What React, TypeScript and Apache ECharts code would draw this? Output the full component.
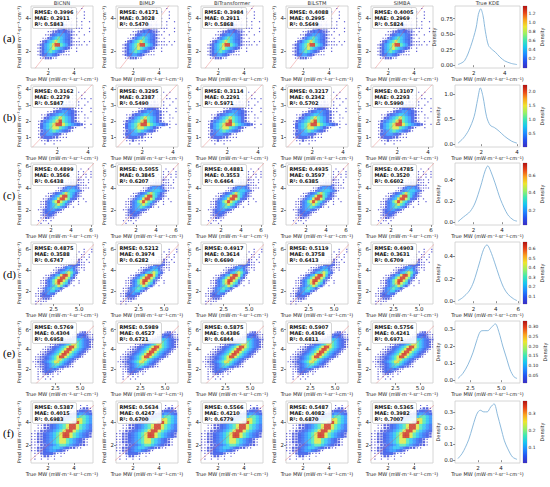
import React, { useEffect, useRef } from 'react';
import * as echarts from 'echarts';

// ---------------- data ----------------
const MODELS = ['BiCNN', 'BiMLP', 'BiTransformer', 'BiLSTM', 'SIMBA'];
const KDE_TITLE = 'True KDE';
const ROW_LABELS = ['(a)', '(b)', '(c)', '(d)', '(e)', '(f)'];
const X_NAME = 'True MW (mW·m⁻²·sr⁻¹·cm⁻¹)';
const Y_NAME = 'Pred (mW·m⁻²·sr⁻¹·cm⁻¹)';
const DENSITY = 'Density';

const RMSE = [
  [0.3996, 0.4171, 0.3984, 0.4088, 0.4005],
  [0.3162, 0.3295, 0.3114, 0.3217, 0.3107],
  [0.4899, 0.5055, 0.4881, 0.4935, 0.4785],
  [0.4875, 0.5212, 0.4917, 0.5119, 0.4903],
  [0.5769, 0.5989, 0.5875, 0.5907, 0.5756],
  [0.5387, 0.5634, 0.5566, 0.5487, 0.5365],
];
const MAE = [
  [0.2911, 0.3028, 0.2911, 0.2995, 0.2969],
  [0.2279, 0.2387, 0.2291, 0.2342, 0.2293],
  [0.3566, 0.3845, 0.3553, 0.3597, 0.352],
  [0.3588, 0.3974, 0.3614, 0.3758, 0.3631],
  [0.4304, 0.4527, 0.4386, 0.4366, 0.4241],
  [0.4015, 0.4247, 0.421, 0.4082, 0.3982],
];
const R2 = [
  [0.5843, 0.547, 0.5868, 0.5649, 0.5824],
  [0.5847, 0.549, 0.5971, 0.5702, 0.599],
  [0.6438, 0.6207, 0.6464, 0.6385, 0.6602],
  [0.6747, 0.6282, 0.669, 0.6413, 0.6709],
  [0.6958, 0.6721, 0.6844, 0.6811, 0.6971],
  [0.6983, 0.67, 0.6779, 0.687, 0.7007],
];

// scatter panel axes
const SC_X_MIN = [0.66, 0.3, 0.0, 0.27, 0.03, 0.7];
const SC_X_MAX = [5.47, 4.33, 6.2, 6.37, 6.3, 5.45];
const SC_Y_MIN = [1.0, 0.4, 0.6, 0.75, 0.6, 0.4];
const SC_Y_MAX = [4.75, 4.25, 6.3, 6.7, 6.88, 5.9];
const SC_X_TICKS = [[2, 4], [2, 4], [2, 4, 6], [2.5, 5], [2.5, 5], [2, 4]];
const SC_Y_TICKS = [[2, 4], [1, 2, 3, 4], [2, 4, 6], [2, 4, 6], [2, 4, 6], [2, 4]];
const SC_X_DEC = [0, 0, 0, 1, 1, 0];

// KDE curves of the true values
const KDE_X = [
  [0.98, 1.4, 1.8, 2.15, 2.3, 2.45, 2.6, 2.75, 2.95, 3.2, 3.4, 3.7, 4.0, 4.4, 4.8],
  [0.7, 1.0, 1.3, 1.6, 1.8, 1.95, 2.1, 2.3, 2.5, 2.75, 3.0, 3.3, 3.7, 4.0],
  [0.9, 1.3, 1.75, 2.1, 2.5, 2.8, 3.0, 3.2, 3.5, 3.9, 4.4, 4.8, 5.05],
  [0.6, 1.0, 1.6, 2.0, 2.5, 2.9, 3.2, 3.5, 3.9, 4.3, 4.7, 5.1, 5.6, 5.9],
  [1.5, 1.9, 2.3, 2.7, 3.0, 3.3, 3.6, 3.9, 4.2, 4.5, 4.8, 5.1, 5.4, 5.7, 6.0, 6.25],
  [0.25, 0.6, 0.9, 1.2, 1.5, 1.8, 2.0, 2.2, 2.5, 2.8, 3.1, 3.4, 3.7, 4.0, 4.3, 4.6, 5.0, 5.4],
];
const KDE_Y = [
  [0.01, 0.07, 0.3, 0.6, 0.82, 0.91, 0.8, 0.55, 0.32, 0.25, 0.21, 0.13, 0.07, 0.03, 0.01],
  [0.02, 0.12, 0.28, 0.55, 0.9, 1.13, 0.95, 0.55, 0.38, 0.33, 0.26, 0.16, 0.06, 0.02],
  [0.005, 0.05, 0.1, 0.18, 0.34, 0.48, 0.53, 0.48, 0.37, 0.21, 0.07, 0.02, 0.01],
  [0.005, 0.03, 0.09, 0.17, 0.33, 0.46, 0.5, 0.45, 0.34, 0.22, 0.12, 0.06, 0.02, 0.005],
  [0.01, 0.04, 0.09, 0.16, 0.23, 0.285, 0.29, 0.29, 0.31, 0.33, 0.28, 0.2, 0.13, 0.06, 0.02, 0.01],
  [0.01, 0.04, 0.08, 0.13, 0.2, 0.27, 0.3, 0.31, 0.3, 0.3, 0.33, 0.35, 0.28, 0.2, 0.12, 0.07, 0.02, 0.005],
];
const KDE_X_TICKS = [[2, 4], [2, 4], [2, 4], [2, 4, 6], [2.5, 5], [2, 4]];
const KDE_X_DEC = [0, 0, 0, 0, 1, 0];
const KDE_Y_TICKS = [[0, 0.25, 0.5, 0.75], [0, 0.5, 1], [0, 0.2, 0.4], [0, 0.2, 0.4], [0, 0.1, 0.2, 0.3], [0, 0.1, 0.2, 0.3]];
const KDE_Y_DEC = [2, 1, 1, 1, 1, 1];

// colour bars (point density)
const CB_MIN = [0.0, 0.0, 0.03, 0.02, 0.01, 0.01];
const CB_MAX = [1.36, 2.24, 0.74, 0.67, 0.33, 0.37];
const CB_TICKS = [
  [0.2, 0.4, 0.6, 0.8, 1.0, 1.2],
  [0.5, 1.0, 1.5, 2.0],
  [0.2, 0.4, 0.6],
  [0.1, 0.2, 0.3, 0.4, 0.5, 0.6],
  [0.05, 0.1, 0.15, 0.2, 0.25, 0.3],
  [0.1, 0.2, 0.3],
];
const CB_DEC = [1, 1, 1, 1, 2, 1];

// binned point-density of each row's clouds: [leading empty bins, density level 1-9 per bin]
const CLOUD_X0 = [1.0, 0.6, 0.5, 0.5, 0.25, 0.75];
const CLOUD_TOP = [4.6, 3.8, 5.75, 6.0, 5.75, 5.5];
const CLOUD_STEP = [0.2, 0.2, 0.25, 0.25, 0.25, 0.25];
// share of the colour-bar range that each density level reaches
const LEVEL_SHARE = [0, 0.02, 0.05, 0.09, 0.14, 0.22, 0.32, 0.45, 0.64, 0.95];

const CLOUD_A: [number, string][] = [
  [14, '1...1'], [12, '1...1..1'], [10, '1..1.1...1'], [9, '1.1.11.1..1'],
  [8, '1.11111.1.1..1'], [7, '1112221211.1'], [6, '1112232221111..1'], [5, '11223433221.1...1'],
  [4, '1123455543211..1'], [3, '1124567654321.1'], [2, '1235678765432111.1.1'], [1, '123567899765321111.1'],
  [1, '12356787654321.1'], [1, '1235676543211..1'], [1, '1234554321111'], [2, '1122211'],
];
const CLOUD_B: [number, string][] = [
  [11, '1..1.1..1'], [10, '1.11.1...1'], [10, '1111.11.1'], [8, '1112111..1'],
  [7, '11222211.1'], [6, '1123332111..1'], [4, '112345543211..1'], [2, '1123456654321.1'],
  [2, '1235678765321.11'], [1, '12456789765321.1'], [1, '1356789987654321.1'], [1, '1356788765321..1'],
  [1, '124567654321'], [1, '1345543211'], [1, '1233322111'], [2, '1121111'], [3, '1..1'],
];
const CLOUD_C: [number, string][] = [
  [18, '1..1.1'], [17, '1.1..1'], [15, '1.1.11.1'], [14, '1.111.1.1'], [13, '1111211.1'],
  [11, '111222111.1'], [10, '11233332111'], [9, '1124555421111'], [8, '112456665421'],
  [5, '11234578765321'], [4, '112456899764321'], [3, '112456899874321.1'], [2, '11245789876421.1..1'],
  [2, '1124567876421..1'], [2, '112456765421.1'], [1, '11234554321'], [2, '123443211'],
  [2, '1223321'], [2, '112211'], [1, '1.11.1'], [2, '1..1'],
];
const CLOUD_D: [number, string][] = [
  [20, '1..1'], [18, '1.1..1'], [17, '1.11.1'], [16, '11.11.1'], [15, '11121.1'],
  [13, '11122211.1'], [11, '1112333211'], [9, '111245542111'], [8, '11234566421.1'],
  [7, '112356787531'], [5, '1123568998631'], [4, '11245789987421'], [3, '11245789987421.1'],
  [3, '1124578987631..1'], [3, '112456787531.1'], [2, '11245676531'], [2, '1124566421'],
  [1, '112345431'], [1, '11233321'], [2, '112221'], [1, '11111'], [1, '1.1'],
];
const BAND9 = '11223456789987654321';
const BAND8 = '112234567887654321';
const BAND7 = '1122345677654321';
const BAND7B = '111223456776543221';
const BAND6 = '1122345665432211';
const BAND6B = '1122345665432211';
const BAND5 = '112234554321';
const BAND4 = '11234443211';
const BAND3 = '1123332111';
const BAND2 = '1.12211.1';
const BAND1 = '1.1.1.1';
const CLOUD_E: [number, string][] = [
  [17, BAND2], [16, BAND3], [14, BAND4], [11, BAND6], [9, BAND7], [7, BAND8], [5, BAND9],
  [4, BAND9], [3, BAND9], [2, BAND9], [1, BAND9], [1, BAND8], [0, BAND8], [1, BAND7],
  [1, BAND6], [2, BAND4], [2, BAND3], [2, BAND2], [2, BAND1], [2, '1..1.1'],
];
const CLOUD_F: [number, string][] = [
  [15, BAND1], [13, BAND2], [12, BAND3], [9, BAND5], [7, BAND7], [5, BAND8], [3, BAND9],
  [2, BAND9], [2, BAND9], [1, BAND9], [0, BAND9], [0, BAND9], [0, BAND8], [0, BAND8],
  [0, BAND7B], [0, BAND6B], [0, BAND5], [1, BAND3], [1, BAND2], [1, BAND1],
];
const CLOUDS = [CLOUD_A, CLOUD_B, CLOUD_C, CLOUD_D, CLOUD_E, CLOUD_F];

// ---------------- layout / style ----------------
const ROW_TOPS = [6, 85, 163, 242, 321, 401];
const ROW_H = 62;
const COL_LEFTS = [31, 116, 201, 286, 371];
const PLOT_W = 62;
const KDE_LEFT = 455;
const KDE_W = 65;
const CB_LEFT = 523;
const CB_W = 4;
const FONT = 'DejaVu Sans';
const JET = ['#3b2fc2', '#2450ee', '#1f8cff', '#18c6f0', '#3ee6b4', '#9cf062', '#eee42e', '#f9a21e', '#e8461a', '#b01414'];

function cloudPoints(r: number) {
  const pts: number[][] = [];
  const step = CLOUD_STEP[r];
  CLOUDS[r].forEach(([lead, prof], j) => {
    const y = CLOUD_TOP[r] - j * step;
    for (let k = 0; k < prof.length; k++) {
      const ch = prof[k];
      if (ch === '.') continue;
      const lvl = Number(ch);
      const x = CLOUD_X0[r] + (lead + k) * step;
      pts.push([x, y, CB_MIN[r] + (CB_MAX[r] - CB_MIN[r]) * LEVEL_SHARE[lvl], lvl]);
    }
  });
  pts.sort((a, b) => a[3] - b[3]);
  return pts;
}

function buildOption() {
  const grid: any[] = [];
  const xAxis: any[] = [];
  const yAxis: any[] = [];
  const series: any[] = [];
  const visualMap: any[] = [];
  const graphic: any[] = [];
  const tick = (vals: number[], len = 2) => ({ show: true, length: len, lineStyle: { color: '#444', width: 0.6 }, customValues: vals });
  const label = (vals: number[], dec: number, size = 5.5, margin = 2) => ({
    fontSize: size, color: '#222', fontFamily: FONT, margin, customValues: vals,
    formatter: (v: number) => v.toFixed(dec),
  });
  const nameStyle = { fontSize: 5, color: '#222', fontFamily: FONT };

  for (let r = 0; r < 6; r++) {
    const top = ROW_TOPS[r];
    const pts = cloudPoints(r);
    const step = CLOUD_STEP[r];
    const cw = (step * PLOT_W) / (SC_X_MAX[r] - SC_X_MIN[r]) + 0.3;
    const ch = (step * ROW_H) / (SC_Y_MAX[r] - SC_Y_MIN[r]) + 0.3;
    const scatterIdx: number[] = [];

    for (let c = 0; c < 5; c++) {
      const gi = grid.length;
      const left = COL_LEFTS[c];
      grid.push({ left, top, width: PLOT_W, height: ROW_H, show: true, borderColor: '#cccccc', borderWidth: 0.8 });
      xAxis.push({
        gridIndex: gi, type: 'value', min: SC_X_MIN[r], max: SC_X_MAX[r],
        axisLine: { show: false }, splitLine: { show: false },
        axisTick: tick(SC_X_TICKS[r]), axisLabel: label(SC_X_TICKS[r], SC_X_DEC[r]),
        name: X_NAME, nameLocation: 'middle', nameGap: 8, nameTextStyle: nameStyle,
      });
      yAxis.push({
        gridIndex: gi, type: 'value', min: SC_Y_MIN[r], max: SC_Y_MAX[r],
        axisLine: { show: false }, splitLine: { show: false },
        axisTick: tick(SC_Y_TICKS[r]), axisLabel: label(SC_Y_TICKS[r], 0),
        name: Y_NAME, nameLocation: 'middle', nameRotate: 90, nameGap: 6, nameTextStyle: nameStyle,
      });
      scatterIdx.push(series.length);
      series.push({
        type: 'scatter', xAxisIndex: gi, yAxisIndex: gi, data: pts, symbol: 'rect',
        symbolSize: (v: number[]) =>
          v[3] >= 3 ? [cw, ch] : v[3] === 2 ? [cw * 0.7, ch * 0.7] : [1.2, 1.2],
        silent: true, z: 2,
      });
      const lo = Math.min(SC_X_MIN[r], SC_Y_MIN[r]);
      const hi = Math.max(SC_X_MAX[r], SC_Y_MAX[r]);
      series.push({
        type: 'line', xAxisIndex: gi, yAxisIndex: gi, data: [[lo, lo], [hi, hi]], symbol: 'none',
        lineStyle: { color: '#e35b5b', width: 0.7, opacity: 0.5 }, silent: true, z: 3, clip: true,
      });
      // stats box
      graphic.push({
        type: 'rect', z: 50, shape: { x: left + 1.5, y: top + 1.5, width: 44, height: 21, r: 1.5 },
        style: { fill: 'rgba(255,255,255,0.88)', stroke: '#b8b8b8', lineWidth: 0.6 },
      });
      const lines = [
        'RMSE: ' + RMSE[r][c].toFixed(4),
        'MAE: ' + MAE[r][c].toFixed(4),
        'R²: ' + R2[r][c].toFixed(4),
      ];
      lines.forEach((t, i) => {
        graphic.push({
          type: 'text', z: 51, x: left + 3.5, y: top + 3 + i * 6.3,
          style: { text: t, fontSize: 5, fontWeight: 'bold', fontFamily: FONT, fill: '#111', verticalAlign: 'top', align: 'left' },
        });
      });
      if (r === 0) {
        graphic.push({
          type: 'text', z: 51, x: left + PLOT_W / 2, y: 3,
          style: { text: MODELS[c], fontSize: 5.2, fontFamily: FONT, fill: '#333', align: 'center', verticalAlign: 'middle' },
        });
      }
    }
    visualMap.push({
      type: 'continuous', show: false, min: CB_MIN[r], max: CB_MAX[r], dimension: 2,
      seriesIndex: scatterIdx, inRange: { color: JET },
    });

    // KDE panel
    const kx = KDE_X[r];
    const ky = KDE_Y[r];
    const xmin = Math.min(...kx), xmax = Math.max(...kx), ymax = Math.max(...ky);
    const gk = grid.length;
    grid.push({ left: KDE_LEFT, top, width: KDE_W, height: ROW_H, show: true, borderColor: '#cccccc', borderWidth: 0.8 });
    xAxis.push({
      gridIndex: gk, type: 'value', min: xmin - 0.05 * (xmax - xmin), max: xmax + 0.05 * (xmax - xmin),
      axisLine: { show: false }, splitLine: { show: false },
      axisTick: tick(KDE_X_TICKS[r]), axisLabel: label(KDE_X_TICKS[r], KDE_X_DEC[r]),
      name: X_NAME, nameLocation: 'middle', nameGap: 8, nameTextStyle: nameStyle,
    });
    yAxis.push({
      gridIndex: gk, type: 'value', min: -0.05 * ymax, max: 1.05 * ymax,
      axisLine: { show: false }, splitLine: { show: false },
      axisTick: tick(KDE_Y_TICKS[r]), axisLabel: label(KDE_Y_TICKS[r], KDE_Y_DEC[r]),
      name: DENSITY, nameLocation: 'middle', nameRotate: 90, nameGap: KDE_Y_DEC[r] === 2 ? 15 : 11, nameTextStyle: nameStyle,
    });
    series.push({
      type: 'line', xAxisIndex: gk, yAxisIndex: gk, data: kx.map((x, i) => [x, ky[i]]),
      smooth: 0.3, symbol: 'none', lineStyle: { color: '#80b2d8', width: 0.9 }, silent: true,
    });
    if (r === 0) {
      graphic.push({
        type: 'text', z: 51, x: KDE_LEFT + KDE_W / 2, y: 3,
        style: { text: KDE_TITLE, fontSize: 5.2, fontFamily: FONT, fill: '#333', align: 'center', verticalAlign: 'middle' },
      });
    }

    // colour bar
    const gc = grid.length;
    grid.push({ left: CB_LEFT, top, width: CB_W, height: ROW_H, show: true, borderColor: '#999', borderWidth: 0.4 });
    xAxis.push({ gridIndex: gc, type: 'value', min: 0, max: 1, show: false });
    yAxis.push({
      gridIndex: gc, type: 'value', position: 'right', min: CB_MIN[r], max: CB_MAX[r],
      axisLine: { show: false }, splitLine: { show: false },
      axisTick: tick(CB_TICKS[r], 1.5), axisLabel: label(CB_TICKS[r], CB_DEC[r], 4.4, 1.5),
      name: DENSITY, nameLocation: 'middle', nameRotate: 90, nameGap: CB_DEC[r] === 2 ? 14 : 12, nameTextStyle: nameStyle,
    });
    series.push({ type: 'scatter', xAxisIndex: gc, yAxisIndex: gc, data: [], silent: true });
    graphic.push({
      type: 'rect', z: 1, shape: { x: CB_LEFT, y: top, width: CB_W, height: ROW_H },
      style: {
        fill: new echarts.graphic.LinearGradient(0, 1, 0, 0, JET.map((col, i) => ({ offset: i / (JET.length - 1), color: col }))),
      },
    });

    // row label
    graphic.push({
      type: 'text', z: 51, x: 3, y: top + 32,
      style: { text: ROW_LABELS[r], fontSize: 11, fontFamily: 'Liberation Serif', fill: '#000', verticalAlign: 'middle', align: 'left' },
    });
  }

  return { backgroundColor: '#ffffff', animation: false, grid, xAxis, yAxis, series, visualMap, graphic };
}

export default function App() {
  const ref = useRef<HTMLDivElement>(null);
  useEffect(() => {
    if (!ref.current) return;
    const chart = echarts.init(ref.current, null, { renderer: 'svg' });
    chart.setOption(buildOption() as any);
    return () => chart.dispose();
  }, []);
  return <div ref={ref} style={{ position: 'fixed', left: 0, top: 0, width: 550, height: 487, background: '#fff' }} />;
}
